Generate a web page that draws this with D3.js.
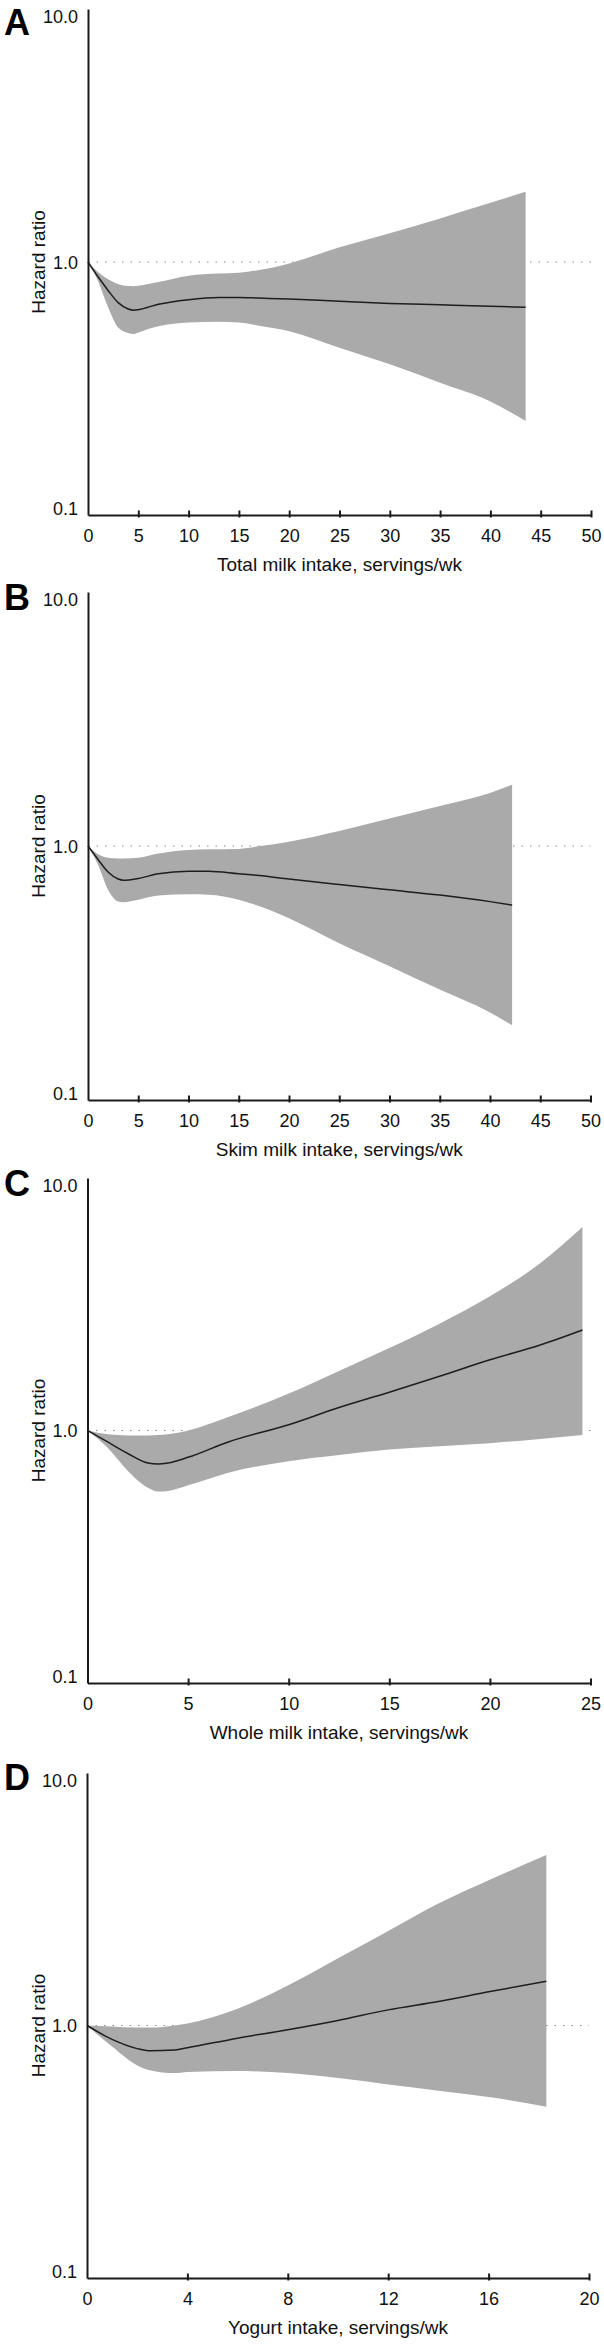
<!DOCTYPE html>
<html><head><meta charset="utf-8">
<script src="https://cdn.jsdelivr.net/npm/d3@7"></script>
<style>
html,body{margin:0;padding:0;background:#fff;}
svg{display:block;font-family:"Liberation Sans",Arial,sans-serif;}
</style></head>
<body>
<svg id="chart" width="604" height="2346"></svg>
<script>
// ---------- DATA ----------
const panelLetters = ["A", "B", "C", "D"];
const xTitles = ["Total milk intake, servings/wk", "Skim milk intake, servings/wk", "Whole milk intake, servings/wk", "Yogurt intake, servings/wk"];
const xMaxes = [50, 50, 25, 20];
const xTickValsA = [0,5,10,15,20,25,30,35,40,45,50];
const xTickValsB = [0,5,10,15,20,25,30,35,40,45,50];
const xTickValsC = [0,5,10,15,20,25];
const xTickValsD = [0,4,8,12,16,20];
const yTickVals = [0.1, 1, 10];
const yTickLabels = ["0.1", "1.0", "10.0"];

// Panel A: total milk
const xA     = [0, 1, 2, 3, 4, 4.5, 5, 7, 10, 13, 15, 17, 20, 25, 30, 35, 40, 43.5];
const hrA    = [1, 0.874, 0.772, 0.691, 0.652, 0.645, 0.648, 0.681, 0.71, 0.724, 0.724, 0.72, 0.714, 0.70, 0.686, 0.677, 0.668, 0.663];
const upA    = [1, 0.913, 0.854, 0.817, 0.803, 0.802, 0.806, 0.834, 0.883, 0.90, 0.907, 0.929, 0.987, 1.144, 1.30, 1.487, 1.713, 1.896];
const loA    = [1, 0.84, 0.663, 0.551, 0.524, 0.519, 0.527, 0.557, 0.576, 0.58, 0.576, 0.56, 0.533, 0.458, 0.394, 0.333, 0.281, 0.235];

// Panel B: skim milk
const xB     = [0, 1, 2, 3, 3.5, 5, 7, 10, 12, 15, 17, 20, 25, 30, 35, 40, 42.2];
const hrB    = [1, 0.885, 0.79, 0.741, 0.733, 0.745, 0.777, 0.795, 0.795, 0.777, 0.765, 0.741, 0.705, 0.672, 0.641, 0.604, 0.585];
const upB    = [1, 0.928, 0.899, 0.893, 0.893, 0.899, 0.934, 0.965, 0.970, 0.974, 0.997, 1.04, 1.145, 1.282, 1.436, 1.618, 1.742];
const loB    = [1, 0.843, 0.672, 0.604, 0.60, 0.614, 0.638, 0.645, 0.643, 0.614, 0.58, 0.519, 0.414, 0.336, 0.272, 0.221, 0.197];

// Panel C: whole milk
const xC     = [0, 1, 2, 3, 3.5, 4, 5, 7, 10, 12.5, 15, 17.5, 20, 22.5, 24.6];
const hrC    = [1, 0.901, 0.811, 0.743, 0.736, 0.743, 0.783, 0.901, 1.054, 1.233, 1.418, 1.64, 1.906, 2.18, 2.50];
const upC    = [1, 0.966, 0.956, 0.956, 0.96, 0.966, 1.0, 1.13, 1.40, 1.72, 2.12, 2.65, 3.4, 4.6, 6.4];
const loC    = [1, 0.855, 0.693, 0.593, 0.573, 0.576, 0.607, 0.681, 0.756, 0.80, 0.840, 0.866, 0.891, 0.925, 0.959];

// Panel D: yogurt
const xD     = [0, 1, 2, 2.5, 3.5, 4, 6, 8, 10, 12, 14, 16, 18.3];
const hrD    = [1, 0.881, 0.81, 0.794, 0.80, 0.816, 0.891, 0.962, 1.047, 1.153, 1.245, 1.359, 1.496];
const upD    = [1, 0.99, 0.981, 0.981, 1.0, 1.019, 1.166, 1.44, 1.848, 2.37, 3.04, 3.76, 4.73];
const loD    = [1, 0.825, 0.695, 0.665, 0.648, 0.655, 0.66, 0.648, 0.619, 0.584, 0.552, 0.521, 0.477];

// ---------- LAYOUT ----------
const panels = [
  {x: xA, hr: hrA, up: upA, lo: loA, ticks: xTickValsA, top: 9,    bottom: 515,  left: 88,   right: 591,   letterY: 35},
  {x: xB, hr: hrB, up: upB, lo: loB, ticks: xTickValsB, top: 592,  bottom: 1100, left: 88,   right: 590.5, letterY: 610},
  {x: xC, hr: hrC, up: upC, lo: loC, ticks: xTickValsC, top: 1178, bottom: 1683, left: 87.5, right: 590.5, letterY: 1196},
  {x: xD, hr: hrD, up: upD, lo: loD, ticks: xTickValsD, top: 1773, bottom: 2278, left: 87,   right: 589,   letterY: 1790}
];

const svg = d3.select("#chart");
const axisColor = "#1a1a1a";
const tickFont = 18, titleFont = 19;

panels.forEach((p, i) => {
  const x = d3.scaleLinear().domain([0, xMaxes[i]]).range([p.left, p.right]);
  const y = d3.scaleLog().domain([0.1, 10]).range([p.bottom, p.top]);
  const g = svg.append("g");
  const pts = p.x.map((v, j) => ({x: v, hr: p.hr[j], up: p.up[j], lo: p.lo[j]}));

  // reference line at HR = 1
  g.append("line")
    .attr("x1", x(0)).attr("x2", x(xMaxes[i]))
    .attr("y1", y(1)).attr("y2", y(1))
    .attr("stroke", "#8a8a8a").attr("stroke-width", 1.2)
    .attr("stroke-dasharray", "1.5,7");

  // confidence band
  g.append("path").datum(pts)
    .attr("fill", "#aaaaaa")
    .attr("d", d3.area().curve(d3.curveMonotoneX)
      .x(d => x(d.x)).y0(d => y(d.lo)).y1(d => y(d.up)));

  // hazard ratio curve
  g.append("path").datum(pts)
    .attr("fill", "none").attr("stroke", "#1e1e1e").attr("stroke-width", 1.5)
    .attr("d", d3.line().curve(d3.curveMonotoneX).x(d => x(d.x)).y(d => y(d.hr)));

  // x axis
  const xa = g.append("g").attr("transform", `translate(0,${p.bottom})`)
    .call(d3.axisBottom(x).tickValues(p.ticks).tickSizeOuter(0).tickSizeInner(0).tickPadding(10)
      .tickFormat(d3.format("d")));
  xa.select(".domain").attr("stroke", axisColor).attr("stroke-width", 2);
  xa.selectAll(".tick line").attr("stroke", axisColor).attr("stroke-width", 2)
    .attr("y1", -4.5).attr("y2", 2.5)
    .filter(d => d === 0).remove();
  xa.selectAll(".tick text").attr("fill", "#111").attr("font-size", tickFont)
    .attr("font-family", "Liberation Sans, Arial, sans-serif")
    .attr("dy", null).attr("y", 26.5);

  // y axis
  const ya = g.append("g").attr("transform", `translate(${p.left},0)`)
    .call(d3.axisLeft(y).tickValues(yTickVals).tickSizeOuter(0).tickSizeInner(0).tickPadding(10)
      .tickFormat((d, k) => yTickLabels[k]));
  ya.select(".domain").attr("stroke", axisColor).attr("stroke-width", 2);
  ya.selectAll(".tick text").attr("fill", "#111").attr("font-size", tickFont)
    .attr("font-family", "Liberation Sans, Arial, sans-serif")
    .attr("dy", d => d === 1 ? "0.35em" : null)
    .attr("y", d => d === 10 ? 13.5 : (d === 0.1 ? -1 : 0));

  // axis titles
  g.append("text")
    .attr("x", (x(0) + x(xMaxes[i])) / 2).attr("y", p.bottom + 56)
    .attr("text-anchor", "middle").attr("font-size", titleFont).attr("fill", "#111")
    .text(xTitles[i]);
  g.append("text")
    .attr("transform", `translate(45,${(p.top + p.bottom) / 2}) rotate(-90)`)
    .attr("text-anchor", "middle").attr("font-size", titleFont).attr("fill", "#111")
    .text("Hazard ratio");

  // panel letter
  g.append("text")
    .attr("x", 4).attr("y", p.letterY)
    .attr("font-size", 36).attr("font-weight", "bold").attr("fill", "#000")
    .text(panelLetters[i]);
});
</script>
</body></html>
